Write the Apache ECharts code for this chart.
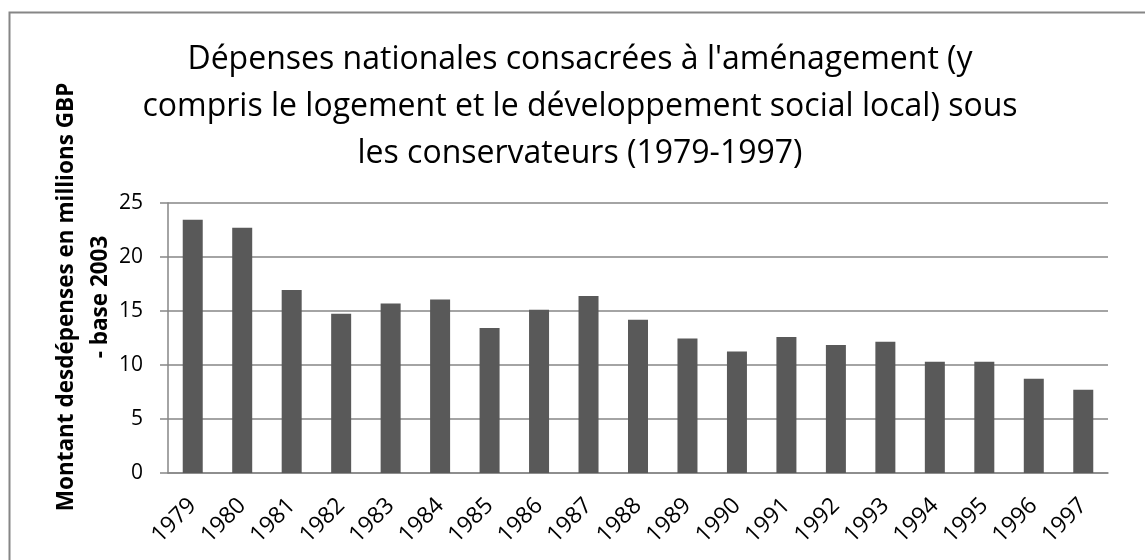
<!DOCTYPE html>
<html>
<head>
<meta charset="utf-8">
<script src="https://cdn.jsdelivr.net/npm/echarts@6/dist/echarts.min.js"></script>
<style>
	html, body { margin: 0; padding: 0; background: #fff; }
	#chart { width: 1145px; height: 560px; }
</style>
</head>
<body>
<div id="chart"></div>
<script>
var years = ['1979', '1980', '1981', '1982', '1983', '1984', '1985', '1986', '1987', '1988',
	'1989', '1990', '1991', '1992', '1993', '1994', '1995', '1996', '1997'];
var spending = [23.45, 22.7, 16.95, 14.75, 15.7, 16.07, 13.43, 15.12, 16.4, 14.2,
	12.46, 11.26, 12.6, 11.85, 12.16, 10.31, 10.31, 8.73, 7.71];
var yTicks = { min: 0, max: 25, interval: 5 };

var chart = echarts.init(document.getElementById('chart'));

var options = {
	animation: false,
	backgroundColor: '#fff',
	title: {
		text: "Dépenses nationales consacrées à l'aménagement (y\ncompris le logement et le développement social local) sous\nles conservateurs (1979-1997)",
		left: 575,
		top: 31,
		textAlign: 'center',
		textStyle: {
			fontFamily: 'Open Sans',
			fontWeight: 'normal',
			fontSize: 32,
			lineHeight: 47,
			color: '#000'
		}
	},
	graphic: [
		{
			type: 'rect',
			shape: { x: 9.5, y: 12.5, width: 1200, height: 600 },
			style: { fill: null, stroke: '#868686', lineWidth: 2 },
			silent: true
		},
		{
			type: 'text',
			x: 84,
			y: 297,
			rotation: Math.PI / 2,
			style: {
				text: 'Montant desdépenses en millions GBP\n- base 2003',
				fontFamily: 'Open Sans',
				fontWeight: 'bold',
				fontSize: 22.5,
				lineHeight: 34,
				align: 'center',
				verticalAlign: 'middle',
				fill: '#000'
			}
		}
	],
	grid: {
		left: 168,
		right: 37,
		top: 203,
		bottom: 87
	},
	xAxis: {
		type: 'category',
		data: years,
		axisLine: { lineStyle: { color: '#868686', width: 1.5 } },
		axisTick: { show: false },
		axisLabel: {
			rotate: 45,
			margin: 29,
			fontFamily: 'Open Sans',
			fontSize: 23,
			color: '#000'
		}
	},
	yAxis: {
		type: 'value',
		min: yTicks.min,
		max: yTicks.max,
		interval: yTicks.interval,
		axisLine: { show: true, lineStyle: { color: '#868686', width: 1.5 } },
		axisTick: { show: true, length: 8, lineStyle: { color: '#868686', width: 1.5 } },
		splitLine: { lineStyle: { color: '#868686', width: 1.5 } },
		axisLabel: {
			margin: 25,
			fontFamily: 'Open Sans',
			fontSize: 21,
			color: '#000'
		}
	},
	series: [
		{
			type: 'bar',
			data: spending,
			barWidth: 20,
			itemStyle: { color: '#595959' }
		}
	]
};

chart.setOption(options);
</script>
</body>
</html>
